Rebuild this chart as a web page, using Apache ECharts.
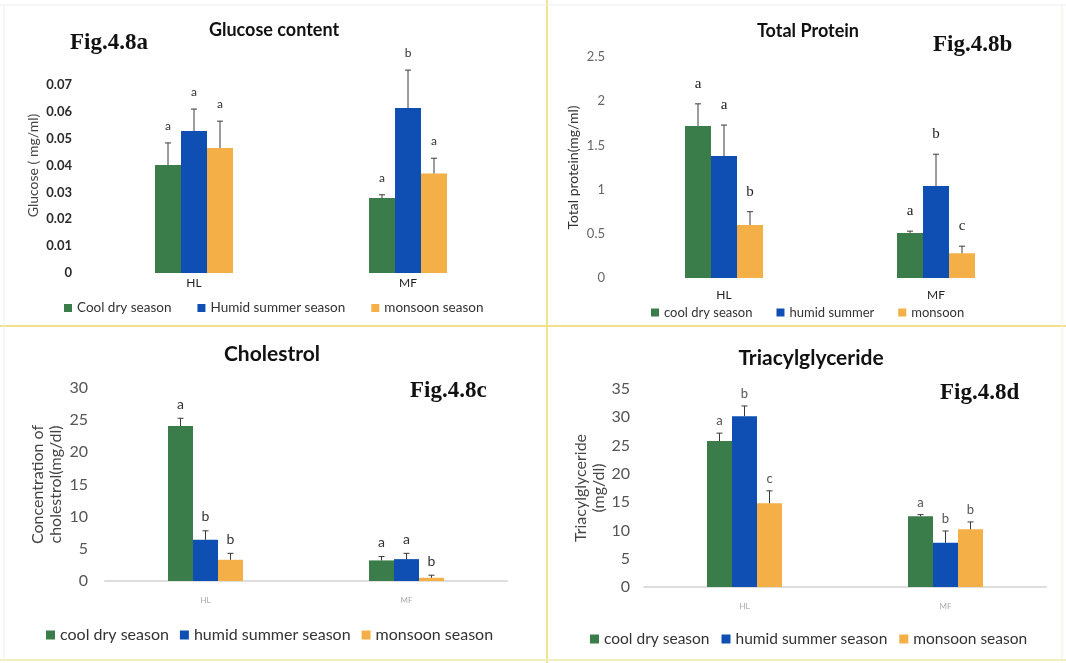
<!DOCTYPE html>
<html>
<head>
<meta charset="utf-8">
<script src="https://cdn.jsdelivr.net/npm/echarts@6/dist/echarts.min.js"></script>
<style>
  html, body { margin: 0; padding: 0; background: #ffffff; }
  #chart { width: 1066px; height: 663px; }
</style>
</head>
<body>
<div id="chart"></div>
<script>
// Sites on the x axis of every panel
const categories = ['HL', 'MF'];

// Season names as written in each panel's legend
const glucoseSeasons = ['Cool dry season', 'Humid summer season', 'monsoon season'];
const proteinSeasons = ['cool dry season', 'humid summer', 'monsoon'];
const lipidSeasons = ['cool dry season', 'humid summer season', 'monsoon season'];

// Glucose (mg/ml): mean and +SE per season, [HL, MF]
const glucoseMean = [[0.0402, 0.0279], [0.0528, 0.0614], [0.0465, 0.0370]];
const glucoseErr = [[0.0082, 0.0012], [0.0082, 0.0141], [0.0100, 0.0057]];
const glucoseLetters = [['a', 'a'], ['a', 'b'], ['a', 'a']];

// Total protein (mg/ml)
const proteinMean = [[1.72, 0.51], [1.38, 1.04], [0.60, 0.28]];
const proteinErr = [[0.25, 0.02], [0.35, 0.36], [0.15, 0.08]];
const proteinLetters = [['a', 'a'], ['a', 'b'], ['b', 'c']];

// Cholesterol (mg/dl)
const cholMean = [[24.1, 3.2], [6.4, 3.4], [3.3, 0.5]];
const cholErr = [[1.2, 0.6], [1.4, 0.9], [1.0, 0.4]];
const cholLetters = [['a', 'a'], ['b', 'a'], ['b', 'b']];

// Triacylglyceride (mg/dl)
const tagMean = [[25.8, 12.5], [30.2, 7.8], [14.8, 10.2]];
const tagErr = [[1.4, 0.3], [1.8, 2.1], [2.2, 1.3]];
const tagLetters = [['a', 'a'], ['b', 'b'], ['c', 'b']];

// Axis ticks
const glucoseTicks = { min: 0, max: 0.08, interval: 0.01 };
const proteinTicks = { min: 0, max: 2.5, interval: 0.5 };
const cholTicks = { min: 0, max: 30, interval: 5 };
const tagTicks = { min: 0, max: 35, interval: 5 };

const seasonColors = ['#3b7c4b', '#0f4fb3', '#f4b046'];
const SANS = 'Lato, "Open Sans", sans-serif';
const SERIF = '"Liberation Serif", "DejaVu Serif", serif';

const panels = [
  {
    seasons: glucoseSeasons, mean: glucoseMean, err: glucoseErr, letters: glucoseLetters, ticks: glucoseTicks,
    grid: { left: 87, top: 58, width: 428, height: 215 },
    barW: 26, letterGap: 17,
    letterFont: '12px ' + SANS, letterColor: '#333',
    yName: 'Glucose ( mg/ml)', yNameGap: 46, yNameSize: 14, yNameColor: '#444',
    tickSize: 13, tickColor: '#2a2a2a', tickWeight: 'bold', tickMargin: 15,
    hideTop: true,
    xLabelSize: 12, xLabelColor: '#222', xLabelMargin: 4, axisLine: false
  },
  {
    seasons: proteinSeasons, mean: proteinMean, err: proteinErr, letters: proteinLetters, ticks: proteinTicks,
    grid: { left: 618, top: 57, width: 424, height: 221 },
    barW: 26, letterGap: 20,
    letterFont: '15px ' + SERIF, letterColor: '#222',
    yName: 'Total protein(mg/ml)', yNameGap: 37, yNameSize: 14, yNameColor: '#333',
    tickSize: 13, tickColor: '#666', tickWeight: 'normal', tickMargin: 13,
    hideTop: false,
    xLabelSize: 12, xLabelColor: '#222', xLabelMargin: 11, axisLine: false
  },
  {
    seasons: lipidSeasons, mean: cholMean, err: cholErr, letters: cholLetters, ticks: cholTicks,
    grid: { left: 105, top: 388, width: 402, height: 193 },
    barW: 25, letterGap: 14,
    letterFont: '14px ' + SANS, letterColor: '#333',
    yName: 'Concentration of\ncholestrol(mg/dl)', yNameGap: 40, yNameSize: 16, yNameColor: '#444',
    tickSize: 16, tickColor: '#555', tickWeight: 'normal', tickMargin: 17,
    hideTop: false,
    xLabelSize: 8, xLabelColor: '#aaa', xLabelMargin: 15, axisLine: true
  },
  {
    seasons: lipidSeasons, mean: tagMean, err: tagErr, letters: tagLetters, ticks: tagTicks,
    grid: { left: 644, top: 389, width: 402, height: 198 },
    barW: 25, letterGap: 12,
    letterFont: '13px ' + SANS, letterColor: '#555',
    yName: 'Triacylglyceride\n(mg/dl)', yNameGap: 36, yNameSize: 16, yNameColor: '#444',
    tickSize: 16, tickColor: '#555', tickWeight: 'normal', tickMargin: 14,
    hideTop: false,
    xLabelSize: 8, xLabelColor: '#aaa', xLabelMargin: 15, axisLine: true
  }
];

// Draws the upward error bar with its cap, and the significance letter above it
function errorRenderer(panel) {
  return function (params, api) {
    const cat = api.value(0);
    const s = api.value(1);
    const v = api.value(2);
    const e = api.value(3);
    const base = api.coord([cat, v]);
    const top = api.coord([cat, v + e]);
    const x = base[0] + (s - 1) * panel.barW;
    const letter = panel.letters[s][cat];
    return {
      type: 'group',
      children: [
        { type: 'line', shape: { x1: x, y1: base[1], x2: x, y2: top[1] },
          style: { stroke: '#3a3a3a', lineWidth: 1 } },
        { type: 'line', shape: { x1: x - 3, y1: top[1], x2: x + 3, y2: top[1] },
          style: { stroke: '#3a3a3a', lineWidth: 1 } },
        { type: 'text', style: { text: letter, x: x, y: top[1] - panel.letterGap,
          align: 'center', verticalAlign: 'middle', font: panel.letterFont, fill: panel.letterColor } }
      ]
    };
  };
}

const grids = [], xAxes = [], yAxes = [], series = [];
panels.forEach((p, i) => {
  grids.push(Object.assign({ containLabel: false }, p.grid));
  xAxes.push({
    type: 'category', gridIndex: i, data: categories,
    axisLine: { show: p.axisLine, lineStyle: { color: '#dedede', width: 2 } },
    axisTick: { show: false },
    axisLabel: { fontSize: p.xLabelSize, color: p.xLabelColor, fontFamily: SANS, margin: p.xLabelMargin }
  });
  yAxes.push({
    type: 'value', gridIndex: i, min: p.ticks.min, max: p.ticks.max, interval: p.ticks.interval,
    splitLine: { show: false }, axisLine: { show: false }, axisTick: { show: false },
    axisLabel: {
      fontSize: p.tickSize, color: p.tickColor, fontWeight: p.tickWeight, fontFamily: SANS, margin: p.tickMargin,
      formatter: (val) => (p.hideTop && val >= p.ticks.max - 1e-9) ? '' : String(+val.toFixed(2))
    },
    name: p.yName, nameLocation: 'middle', nameGap: p.yNameGap,
    nameTextStyle: { fontSize: p.yNameSize, color: p.yNameColor, fontFamily: SANS, lineHeight: p.yNameSize + 2 }
  });
  p.seasons.forEach((name, s) => {
    series.push({
      type: 'bar', name: name, xAxisIndex: i, yAxisIndex: i,
      data: p.mean[s], barWidth: p.barW, barGap: '0%',
      itemStyle: { color: seasonColors[s] }, silent: true
    });
  });
  const errData = [];
  p.mean.forEach((row, s) => row.forEach((v, c) => errData.push([c, s, v, p.err[s][c]])));
  series.push({
    type: 'custom', xAxisIndex: i, yAxisIndex: i, data: errData,
    encode: { x: 0, y: 2 }, renderItem: errorRenderer(p), z: 5, silent: true
  });
});

const titleStyle = (size) => ({ fontSize: size, fontWeight: 'bold', color: '#111', fontFamily: SANS });

const option = {
  backgroundColor: '#ffffff',
  animation: false,
  title: [
    { text: 'Glucose content', left: 269, top: 16, textAlign: 'center', textStyle: titleStyle(18) },
    { text: 'Total Protein', left: 803, top: 17, textAlign: 'center', textStyle: titleStyle(18) },
    { text: 'Cholestrol', left: 267, top: 339, textAlign: 'center', textStyle: titleStyle(21) },
    { text: 'Triacylglyceride', left: 806, top: 343, textAlign: 'center', textStyle: titleStyle(21) }
  ],
  legend: [
    { data: glucoseSeasons, left: 59, top: 296, icon: 'rect', itemWidth: 8, itemHeight: 8, itemGap: 26,
      textStyle: { fontSize: 13.5, color: '#333', fontFamily: SANS }, selectedMode: false },
    { data: proteinSeasons, left: 646, top: 301, icon: 'rect', itemWidth: 8, itemHeight: 8, itemGap: 24,
      textStyle: { fontSize: 13, color: '#333', fontFamily: SANS }, selectedMode: false },
    { data: lipidSeasons, left: 41, top: 622, icon: 'rect', itemWidth: 9, itemHeight: 9, itemGap: 11,
      textStyle: { fontSize: 16, color: '#333', fontFamily: SANS }, selectedMode: false },
    { data: lipidSeasons, left: 585, top: 626, icon: 'rect', itemWidth: 9, itemHeight: 9, itemGap: 12,
      textStyle: { fontSize: 15.5, color: '#333', fontFamily: SANS }, selectedMode: false }
  ],
  grid: grids,
  xAxis: xAxes,
  yAxis: yAxes,
  series: series,
  graphic: [
    // panel frames
    { type: 'line', shape: { x1: 547, y1: 0, x2: 547, y2: 663 }, style: { stroke: '#f1e58c', lineWidth: 2 }, silent: true },
    { type: 'line', shape: { x1: 0, y1: 326, x2: 1066, y2: 326 }, style: { stroke: '#f0e08e', lineWidth: 2 }, silent: true },
    { type: 'line', shape: { x1: 0, y1: 660, x2: 1066, y2: 660 }, style: { stroke: '#f3eec0', lineWidth: 2 }, silent: true },
    { type: 'line', shape: { x1: 0, y1: 5, x2: 1066, y2: 5 }, style: { stroke: '#eeeeee', lineWidth: 1 }, silent: true },
    { type: 'line', shape: { x1: 4, y1: 5, x2: 4, y2: 660 }, style: { stroke: '#eeeeee', lineWidth: 1 }, silent: true },
    { type: 'line', shape: { x1: 1062, y1: 5, x2: 1062, y2: 660 }, style: { stroke: '#f3f0d8', lineWidth: 1 }, silent: true },
    // figure labels
    { type: 'text', x: 70, y: 43, style: { text: 'Fig.4.8a', font: 'bold 23px ' + SERIF, fill: '#111', verticalAlign: 'middle' } },
    { type: 'text', x: 933, y: 45, style: { text: 'Fig.4.8b', font: 'bold 23px ' + SERIF, fill: '#111', verticalAlign: 'middle' } },
    { type: 'text', x: 410, y: 391, style: { text: 'Fig.4.8c', font: 'bold 23px ' + SERIF, fill: '#111', verticalAlign: 'middle' } },
    { type: 'text', x: 940, y: 393, style: { text: 'Fig.4.8d', font: 'bold 23px ' + SERIF, fill: '#111', verticalAlign: 'middle' } }
  ]
};

const chart = echarts.init(document.getElementById('chart'), null, { renderer: 'canvas' });
chart.setOption(option);
</script>
</body>
</html>
